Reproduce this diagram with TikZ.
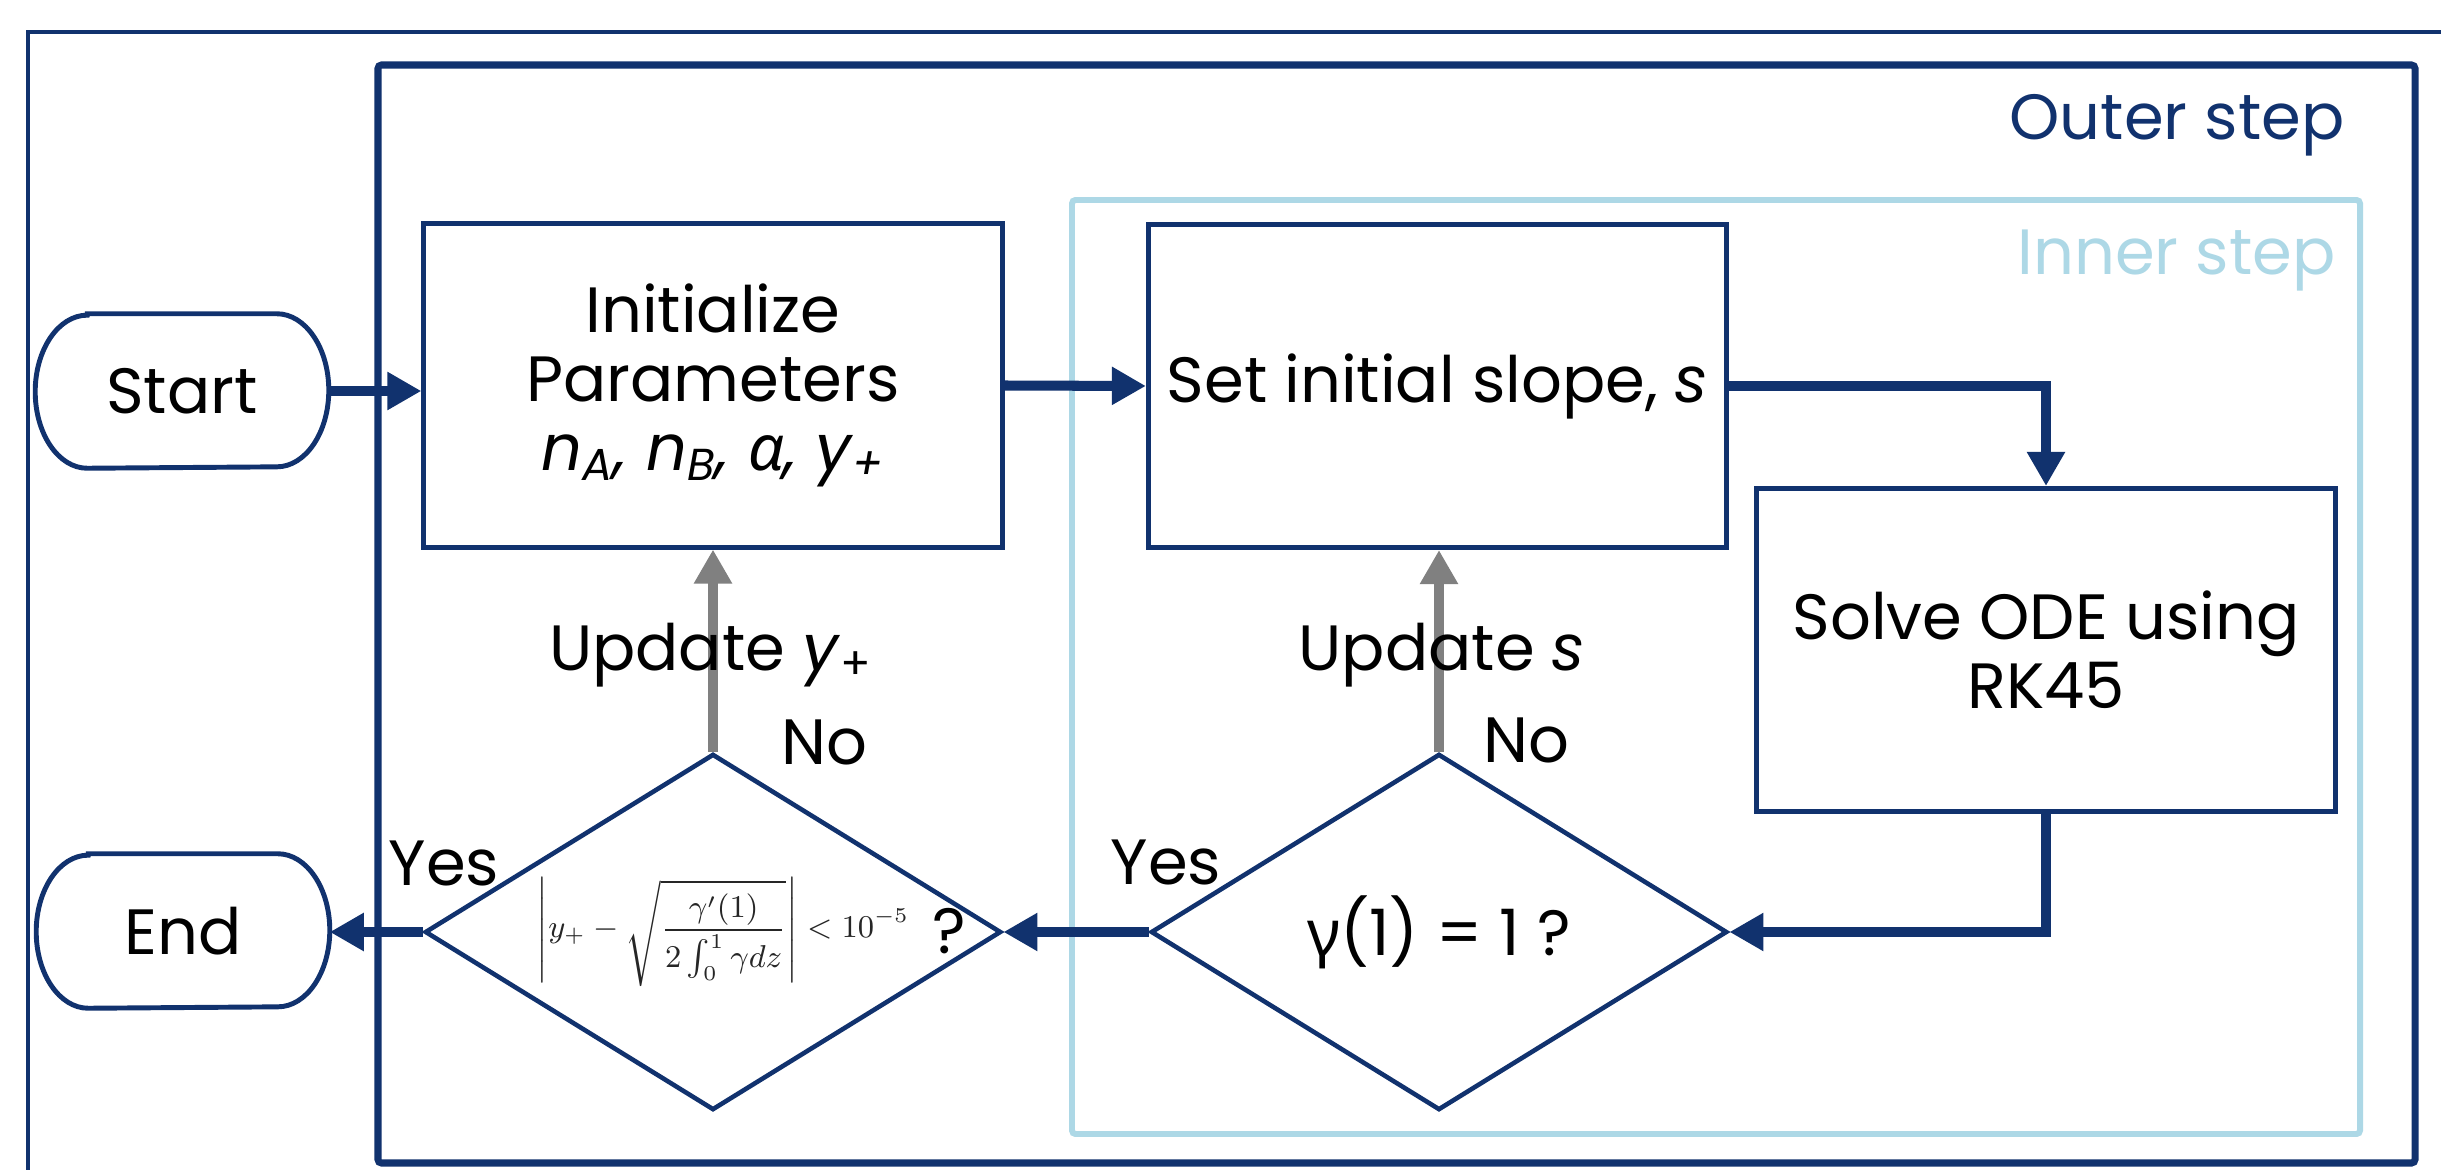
\documentclass[tikz,border=0pt]{standalone}
\usepackage[no-math]{fontspec}
\setmainfont{Poppins}
\newfontfamily\grk{Noto Sans}
\usetikzlibrary{arrows.meta,shapes.geometric,calc}
\definecolor{dblue}{RGB}{17,50,110}
\definecolor{lblue}{RGB}{173,216,230}
\definecolor{agray}{RGB}{128,128,128}
\begin{document}
\begin{tikzpicture}[x=0.01cm,y=-0.01cm,
  every node/.style={font=\fontsize{18.2}{19.6}\selectfont},
  box/.style={draw=dblue, line width=1.4pt, minimum width=5.78cm, minimum height=3.23cm, inner sep=0pt, align=center},
  dia/.style={diamond, draw=dblue, line width=1.3pt, minimum width=5.76cm, minimum height=3.56cm, inner sep=0pt},
  term/.style={minimum width=2.92cm, minimum height=1.53cm, inner sep=0pt},
  termline/.style={draw=dblue, line width=1.4pt},
  flow/.style={draw=dblue, line width=2.85pt, -{Triangle[length=0.34cm,width=0.36cm]}},
  back/.style={draw=agray, line width=2.85pt, -{Triangle[length=0.34cm,width=0.36cm]}},
  lbl/.style={inner sep=0pt, anchor=base west}
]
\fill[white] (0,0) rectangle (2441,1170);
\useasboundingbox (0,0) rectangle (2441,1170);

% frames
\draw[dblue, line width=1pt] (28,1170) -- (28,32) -- (2441,32);
\draw[dblue, line width=2pt, rounded corners=1pt] (378,65) rectangle (2415,1163);
\draw[lblue, line width=1.7pt, rounded corners=1pt] (1072,200) rectangle (2360,1134);
\node[anchor=base east, inner sep=0pt, text=dblue] (outerlbl) at (2345,140) {Outer step};
\node[anchor=base east, inner sep=0pt, text=lblue] (innerlbl) at (2336,275) {Inner step};

% terminals
\node[term] (start) at (182,391) {Start};
\draw[termline] ([xshift=0.52cm]start.north west) -- ([xshift=-0.52cm]start.north east)
  arc[start angle=90,end angle=-90,x radius=0.52cm,y radius=0.765cm]
  -- ([xshift=0.52cm]start.south west)
  arc[start angle=270,end angle=90,x radius=0.52cm,y radius=0.765cm] -- cycle;
\node[term] (end) at (183,931) {End};
\draw[termline] ([xshift=0.52cm]end.north west) -- ([xshift=-0.52cm]end.north east)
  arc[start angle=90,end angle=-90,x radius=0.52cm,y radius=0.765cm]
  -- ([xshift=0.52cm]end.south west)
  arc[start angle=270,end angle=90,x radius=0.52cm,y radius=0.765cm] -- cycle;

% process boxes
\node[box] (init) at (713,385.5) {Initialize\\Parameters\\{\itshape n\textsubscript{A}, n\textsubscript{B}, {\grk α}, y\textsubscript{+}}};
\node[box] (set) at (1437.5,386) {Set initial slope, \textit{s}};
\node[box] (solve) at (2046,650) {Solve ODE using\\RK45};

% decisions
\node[dia] (d1) at (713,932) {};
\node[dia] (d2) at (1439,932) {{\grk γ}(1) = 1 ?};
\node[anchor=west, inner sep=0pt] (cond) at (536,932) {{\fontsize{9}{11}\selectfont\color{black!85}$\displaystyle\left|y_+-\sqrt{\frac{\gamma'(1)}{2\int_0^1\gamma dz}}\right|<10^{-5}$}\hspace{0.23cm}\raisebox{-0.16cm}{?}};

% connectors
\draw[flow] (start.east) -- (start.east -| init.west);
\draw[flow] (init.east) -- (set.west);
\draw[flow] (set.east) -| (solve.north);
\draw[flow] (solve.south) |- (d2.east);
\draw[flow] (d2.west) -- (d1.east);
\draw[flow] (d1.west) -- (d1.west -| end.east);
\draw[back] (d1.north) -- (init.south);
\draw[back] (d2.north) -- (d2.north |- set.south);

% labels
\node[lbl, anchor=base] (upy) at (711,670) {Update \textit{y}\textsubscript{+}};
\node[lbl, anchor=base] (ups) at (1442,670) {Update \textit{s}};
\node[lbl] (no1) at (781,764) {No};
\node[lbl] (no2) at (1483,762) {No};
\node[lbl] (yes1) at (388,885) {Yes};
\node[lbl] (yes2) at (1110,884) {Yes};
\end{tikzpicture}
\end{document}
